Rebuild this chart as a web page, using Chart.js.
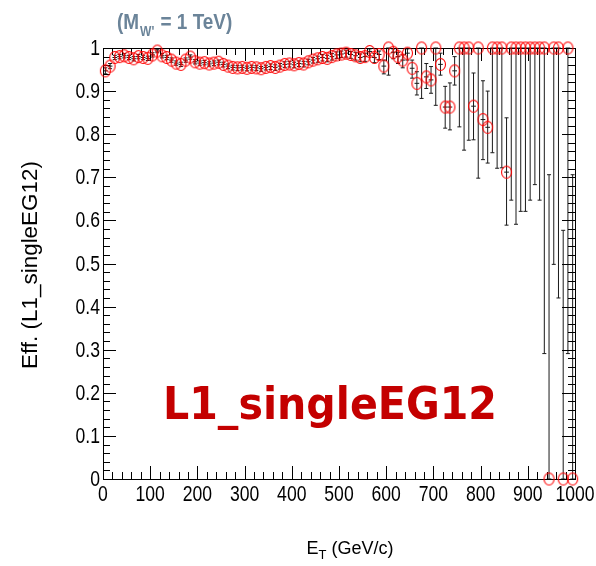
<!DOCTYPE html>
<html>
<head>
<meta charset="utf-8">
<script src="https://cdn.jsdelivr.net/npm/chart.js@4"></script>
<style>
  html, body { margin: 0; padding: 0; background: #fff; }
  canvas { display: block; }
</style>
</head>
<body>
<canvas id="effChart" width="596" height="566"></canvas>
<script>
// bin centres (GeV), 10 GeV bins
const binCenters = [
    5, 15, 25, 35, 45, 55, 65, 75, 85, 95,
    105, 115, 125, 135, 145, 155, 165, 175, 185, 195,
    205, 215, 225, 235, 245, 255, 265, 275, 285, 295,
    305, 315, 325, 335, 345, 355, 365, 375, 385, 395,
    405, 415, 425, 435, 445, 455, 465, 475, 485, 495,
    505, 515, 525, 535, 545, 555, 565, 575, 585, 595,
    605, 615, 625, 635, 645, 655, 665, 675, 685, 695,
    705, 715, 725, 735, 745, 755, 765, 775, 785, 795,
    805, 815, 825, 835, 845, 855, 865, 875, 885, 895,
    905, 915, 925, 935, 945, 955, 965, 975, 985, 995
];

const eff = [
    0.947, 0.958, 0.978, 0.980, 0.982, 0.978, 0.975, 0.980, 0.978, 0.976,
    0.984, 0.993, 0.982, 0.978, 0.972, 0.965, 0.962, 0.972, 0.979, 0.968,
    0.965, 0.966, 0.963, 0.965, 0.967, 0.962, 0.958, 0.955, 0.954, 0.955,
    0.953, 0.955, 0.954, 0.952, 0.955, 0.957, 0.955, 0.958, 0.962, 0.963,
    0.961, 0.964, 0.963, 0.968, 0.972, 0.975, 0.978, 0.976, 0.980, 0.984,
    0.986, 0.988, 0.985, 0.982, 0.978, 0.980, 0.992, 0.978, 0.985, 0.958,
    1.0, 0.990, 0.980, 0.972, 0.988, 0.953, 0.918, 1.0, 0.933, 0.926,
    1.0, 0.962, 0.863, 0.863, 0.947, 1.0, 1.0, 1.0, 0.865, 1.0,
    0.834, 0.816, 1.0, 1.0, 1.0, 0.712, 1.0, 1.0, 1.0, 1.0,
    1.0, 1.0, 1.0, 1.0, 0.0, 1.0, 1.0, 0.0, 1.0, 0.0
];

const errLow = [
    0.007, 0.006, 0.005, 0.005, 0.005, 0.005, 0.005, 0.005, 0.005, 0.005,
    0.005, 0.004, 0.005, 0.005, 0.005, 0.005, 0.005, 0.005, 0.005, 0.005,
    0.005, 0.005, 0.005, 0.006, 0.006, 0.006, 0.006, 0.006, 0.006, 0.006,
    0.006, 0.006, 0.006, 0.006, 0.006, 0.007, 0.007, 0.007, 0.007, 0.007,
    0.007, 0.007, 0.007, 0.007, 0.007, 0.008, 0.008, 0.008, 0.008, 0.008,
    0.008, 0.009, 0.009, 0.010, 0.010, 0.011, 0.010, 0.012, 0.012, 0.018,
    0.063, 0.015, 0.016, 0.018, 0.016, 0.023, 0.027, 0.117, 0.027, 0.031,
    0.133, 0.025, 0.049, 0.053, 0.033, 0.183, 0.237, 0.214, 0.078, 0.302,
    0.093, 0.083, 0.243, 0.279, 0.278, 0.123, 0.353, 0.409, 0.379, 0.379,
    0.353, 0.317, 0.353, 0.709, 0.0, 0.502, 0.580, 0.0, 0.709, 0.0
];

const errHigh = [
    0.007, 0.006, 0.005, 0.005, 0.005, 0.005, 0.005, 0.005, 0.005, 0.005,
    0.005, 0.004, 0.005, 0.005, 0.005, 0.005, 0.005, 0.005, 0.005, 0.005,
    0.005, 0.005, 0.005, 0.005, 0.005, 0.005, 0.005, 0.005, 0.005, 0.005,
    0.005, 0.005, 0.005, 0.005, 0.005, 0.006, 0.006, 0.006, 0.006, 0.006,
    0.006, 0.006, 0.006, 0.006, 0.006, 0.006, 0.007, 0.007, 0.007, 0.007,
    0.007, 0.007, 0.007, 0.008, 0.008, 0.008, 0.006, 0.009, 0.008, 0.014,
    0.0, 0.008, 0.010, 0.012, 0.010, 0.019, 0.027, 0.0, 0.031, 0.031,
    0.0, 0.026, 0.048, 0.056, 0.033, 0.0, 0.0, 0.0, 0.077, 0.0,
    0.090, 0.084, 0.0, 0.0, 0.0, 0.126, 0.0, 0.0, 0.0, 0.0,
    0.0, 0.0, 0.0, 0.0, 0.706, 0.0, 0.0, 0.577, 0.0, 0.706
];

const xTickValues = [0, 100, 200, 300, 400, 500, 600, 700, 800, 900, 1000];
const yTickValues = [0, 0.1, 0.2, 0.3, 0.4, 0.5, 0.6, 0.7, 0.8, 0.9, 1];
const yTickLabels = ['0', '0.1', '0.2', '0.3', '0.4', '0.5', '0.6', '0.7', '0.8', '0.9', '1'];

const xTitle = 'E';
const xTitleSub = 'T';
const xTitleRest = ' (GeV/c)';
const yTitle = 'Eff. (L1_singleEG12)';
const bigLabel = 'L1_singleEG12';

// open red ellipse marker, like ROOT marker style 24 on a stretched pad
const marker = document.createElement('canvas');
marker.width = 13;
marker.height = 15;
(function () {
    const m = marker.getContext('2d');
    m.strokeStyle = '#ff0000';
    m.lineWidth = 1.1;
    m.beginPath();
    m.ellipse(6.5, 7.5, 5, 6, 0, 0, Math.PI * 2);
    m.stroke();
})();

const LABEL_FONT = '22px "Liberation Sans", Arial, sans-serif';

// text helper: optional horizontal squeeze for the narrow ROOT font look
function drawText(ctx, text, x, y, opts) {
    ctx.save();
    ctx.translate(x, y);
    if (opts.rotate) ctx.rotate(opts.rotate);
    ctx.scale(opts.sx || 1, 1);
    ctx.font = opts.font;
    ctx.fillStyle = opts.color || '#000';
    ctx.textAlign = opts.align || 'left';
    ctx.textBaseline = opts.baseline || 'alphabetic';
    ctx.fillText(text, 0, 0);
    ctx.restore();
}

const rootStyle = {
    id: 'rootStyle',
    beforeDatasetsDraw(chart) {
        const ctx = chart.ctx;
        const xs = chart.scales.x;
        const ys = chart.scales.y;
        const a = chart.chartArea;

        // error bars
        ctx.save();
        ctx.strokeStyle = '#1a1a1a';
        ctx.lineWidth = 1;
        binCenters.forEach((e, i) => {
            const px = xs.getPixelForValue(e);
            const py = ys.getPixelForValue(eff[i]);
            const lo = ys.getPixelForValue(eff[i] - errLow[i]);
            const hi = ys.getPixelForValue(eff[i] + errHigh[i]);
            const xl = xs.getPixelForValue(e - 5);
            const xr = xs.getPixelForValue(e + 5);
            ctx.beginPath();
            ctx.moveTo(px, hi);
            ctx.lineTo(px, lo);
            ctx.moveTo(xl, py);
            ctx.lineTo(xr, py);
            if (errLow[i] > 0) { ctx.moveTo(px - 2, lo); ctx.lineTo(px + 2, lo); }
            if (errHigh[i] > 0) { ctx.moveTo(px - 2, hi); ctx.lineTo(px + 2, hi); }
            ctx.stroke();
        });
        ctx.restore();

        // frame and tick marks on all four sides
        ctx.save();
        ctx.strokeStyle = '#000';
        ctx.lineWidth = 1;
        ctx.strokeRect(Math.round(a.left) + 0.5, Math.round(a.top) + 0.5,
            Math.round(a.right - a.left), Math.round(a.bottom - a.top));
        ctx.beginPath();
        for (let v = 0; v <= 1000; v += 20) {
            const px = Math.round(xs.getPixelForValue(v)) + 0.5;
            const len = v % 100 === 0 ? 13 : 7;
            ctx.moveTo(px, a.bottom);
            ctx.lineTo(px, a.bottom - len);
            ctx.moveTo(px, a.top);
            ctx.lineTo(px, a.top + len);
        }
        for (let k = 0; k <= 50; k++) {
            const py = Math.round(ys.getPixelForValue(k / 50)) + 0.5;
            const len = k % 5 === 0 ? 13 : 7;
            ctx.moveTo(a.left, py);
            ctx.lineTo(a.left + len, py);
            ctx.moveTo(a.right, py);
            ctx.lineTo(a.right - len, py);
        }
        ctx.stroke();
        ctx.restore();

        // tick labels
        xTickValues.forEach(v => {
            drawText(ctx, String(v), xs.getPixelForValue(v), 495, {
                font: LABEL_FONT, sx: 0.8, align: 'center', baseline: 'middle'
            });
        });
        yTickValues.forEach((v, i) => {
            drawText(ctx, yTickLabels[i], 100, ys.getPixelForValue(v) + 1, {
                font: LABEL_FONT, sx: 0.8, align: 'right', baseline: 'middle'
            });
        });
    },
    afterDraw(chart) {
        const ctx = chart.ctx;

        // y title (rotated)
        drawText(ctx, yTitle, 37, 265, {
            font: '22px "Liberation Sans", Arial, sans-serif', sx: 1.02,
            align: 'center', baseline: 'alphabetic', rotate: -Math.PI / 2
        });

        // x title with subscript
        ctx.save();
        ctx.font = '18px "Liberation Sans", Arial, sans-serif';
        const wE = ctx.measureText(xTitle).width;
        const wRest = ctx.measureText(xTitleRest).width;
        ctx.font = '13px "Liberation Sans", Arial, sans-serif';
        const wSub = ctx.measureText(xTitleSub).width;
        ctx.restore();
        const x0 = 350 - (wE + wSub + wRest) / 2;
        drawText(ctx, xTitle, x0, 554, { font: '18px "Liberation Sans", Arial, sans-serif' });
        drawText(ctx, xTitleSub, x0 + wE, 559, { font: '13px "Liberation Sans", Arial, sans-serif' });
        drawText(ctx, xTitleRest, x0 + wE + wSub, 554, { font: '18px "Liberation Sans", Arial, sans-serif' });

        // top annotation (M_W' = 1 TeV)
        const tc = '#6b8499';
        const tf = 'bold 22px "Liberation Sans", Arial, sans-serif';
        const sf = 'bold 14px "Liberation Sans", Arial, sans-serif';
        ctx.save();
        ctx.font = tf;
        const w1 = ctx.measureText('(M').width * 0.86;
        ctx.font = sf;
        const w2 = ctx.measureText("W'").width * 0.86;
        ctx.restore();
        drawText(ctx, '(M', 117, 29, { font: tf, color: tc, sx: 0.86 });
        drawText(ctx, "W'", 117 + w1 + 1, 36, { font: sf, color: tc, sx: 0.86 });
        drawText(ctx, ' = 1 TeV)', 117 + w1 + w2 + 2, 29, { font: tf, color: tc, sx: 0.86 });

        // big red label, fitted to its width in the picture
        ctx.save();
        ctx.font = 'bold 45px "DejaVu Sans", sans-serif';
        const wb = ctx.measureText(bigLabel).width;
        ctx.restore();
        drawText(ctx, bigLabel, 163, 419, {
            font: 'bold 45px "DejaVu Sans", sans-serif', color: '#c40000', sx: 334 / wb
        });
    }
};

new Chart(document.getElementById('effChart'), {
    type: 'scatter',
    data: {
        datasets: [{
            data: binCenters.map((e, i) => ({ x: e, y: eff[i] })),
            pointStyle: marker,
            pointRadius: 6,
            pointHoverRadius: 6,
            showLine: false,
            clip: false
        }]
    },
    options: {
        responsive: false,
        animation: false,
        devicePixelRatio: 1,
        layout: { padding: { top: 48, right: 21, left: 0, bottom: 0 } },
        plugins: { legend: { display: false }, tooltip: { enabled: false } },
        scales: {
            x: {
                type: 'linear', min: 0, max: 1000,
                ticks: { display: false, stepSize: 100 },
                grid: { display: false, drawTicks: false },
                border: { display: false },
                afterFit(s) { s.height = 87; }
            },
            y: {
                type: 'linear', min: 0, max: 1,
                ticks: { display: false, stepSize: 0.1 },
                grid: { display: false, drawTicks: false },
                border: { display: false },
                afterFit(s) { s.width = 103; }
            }
        }
    },
    plugins: [rootStyle]
});
</script>
</body>
</html>
